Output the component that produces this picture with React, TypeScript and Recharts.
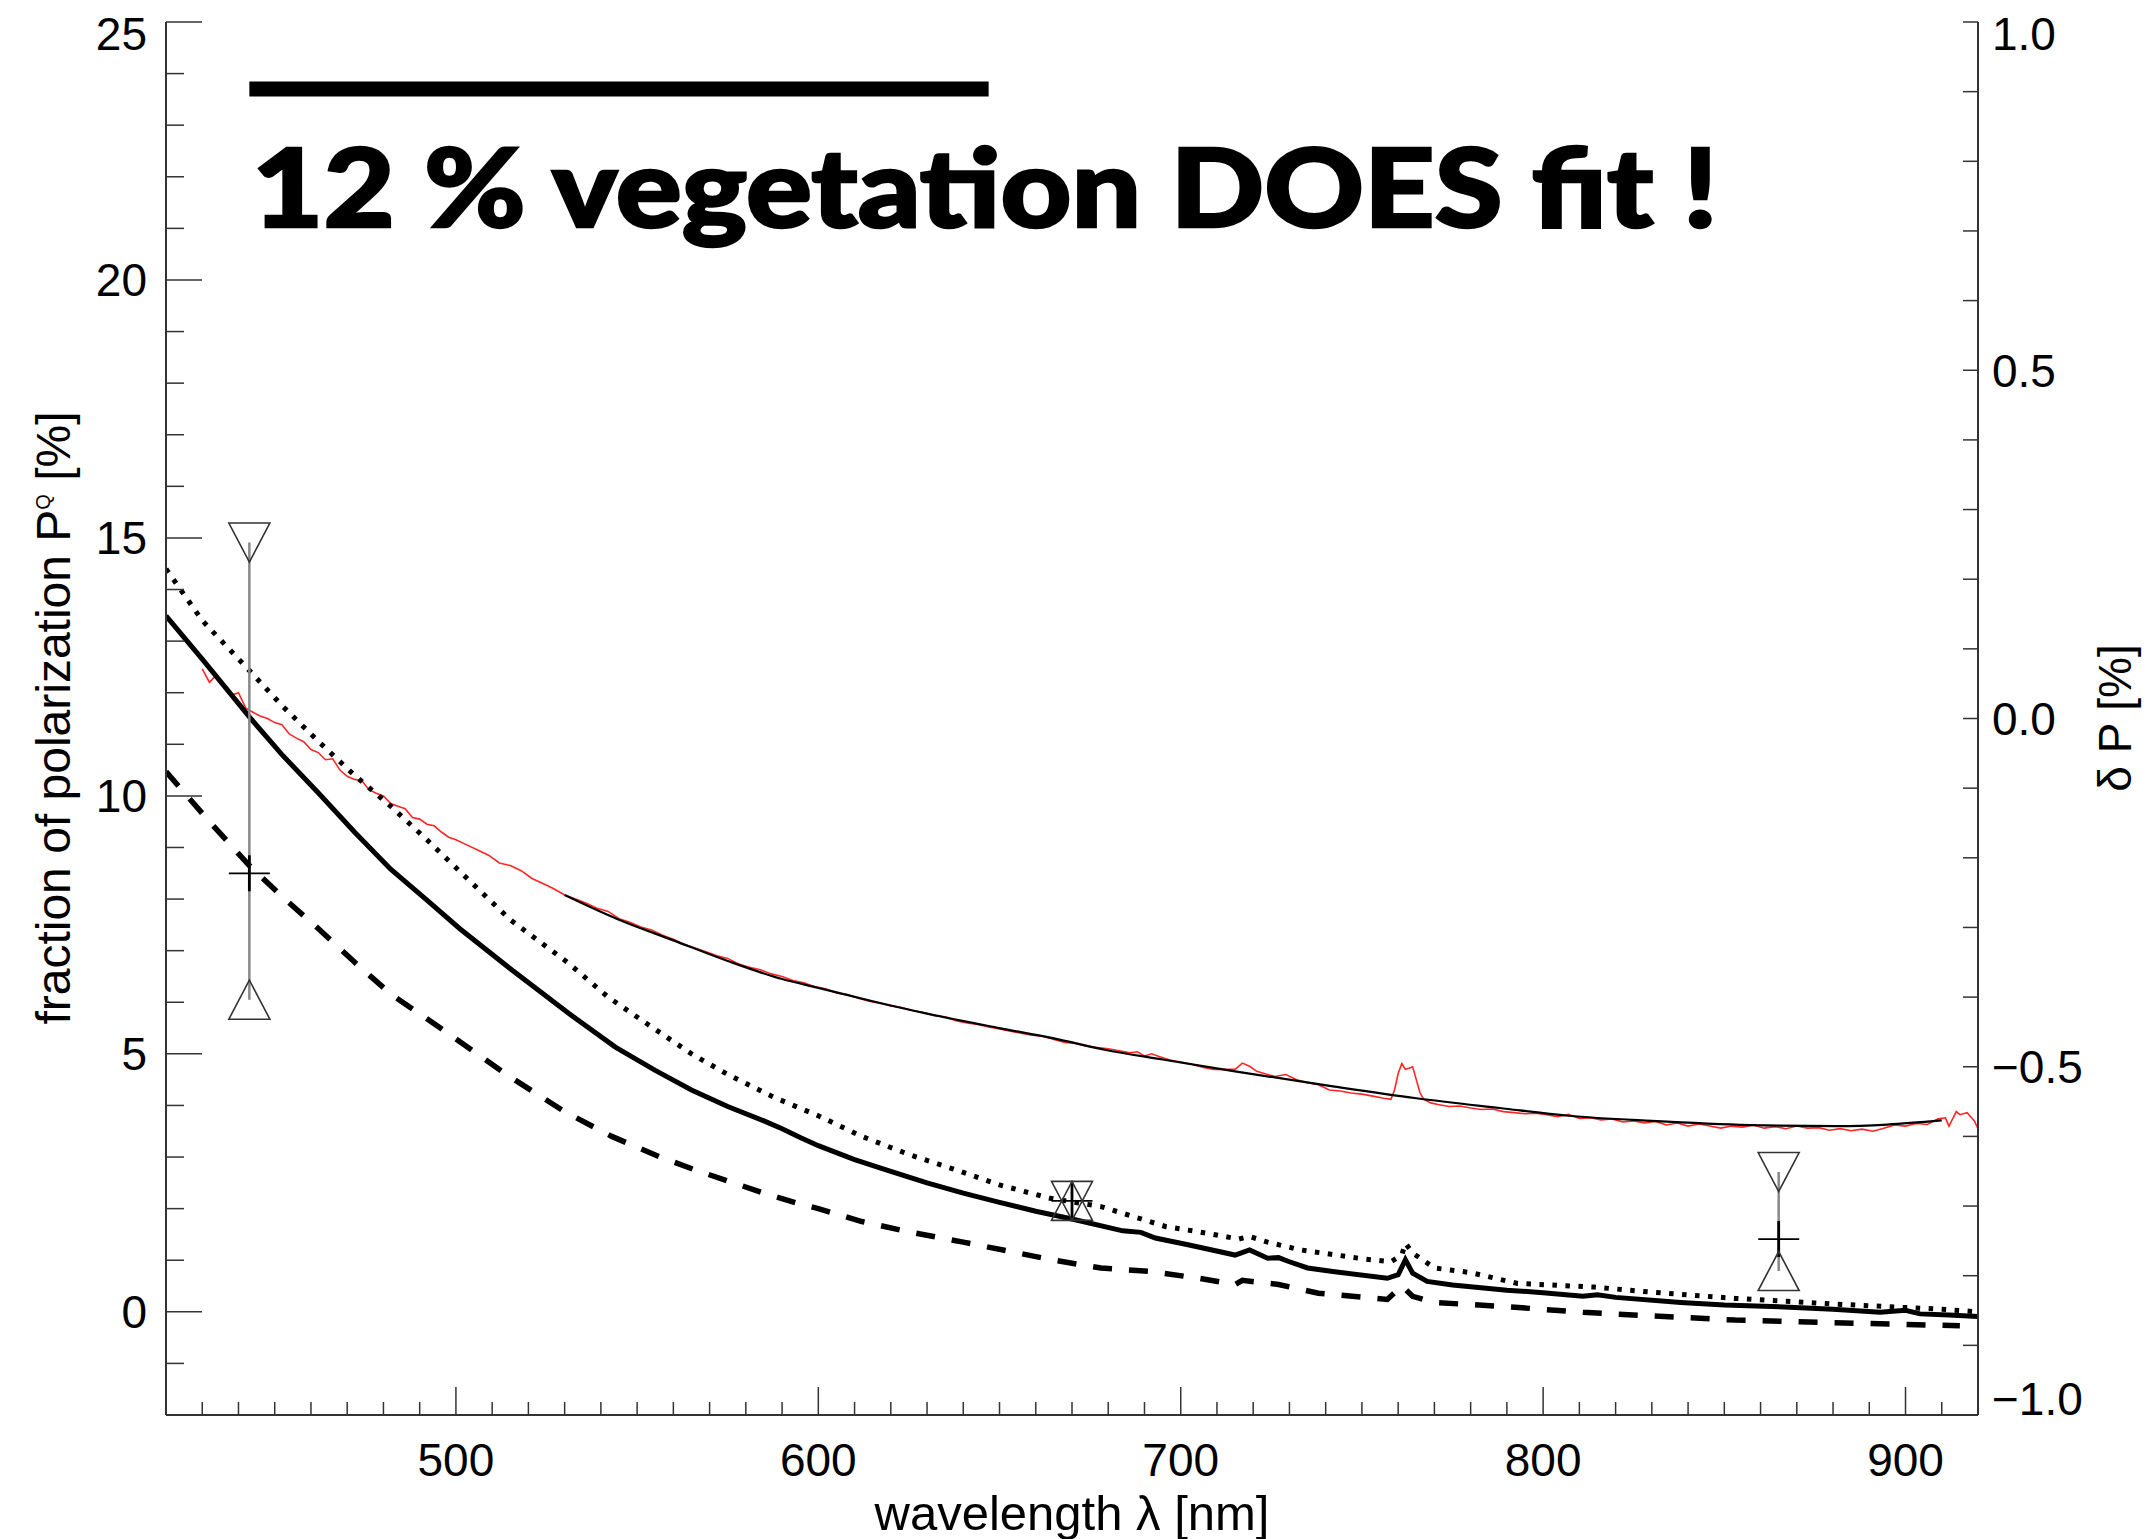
import { ComposedChart, Line, Scatter, XAxis, YAxis, ErrorBar, ReferenceLine } from 'recharts'

const FONT = '"Liberation Sans", Arial, Helvetica, sans-serif'
const AXIS = '#333'

// axis ticks
const X_MAJOR = [500, 600, 700, 800, 900]
const Y_MAJOR = [0, 5, 10, 15, 20, 25]
const R_MAJOR = [-1.0, -0.5, 0.0, 0.5, 1.0]

// model: solid (thick) curve, P_Q in %
const solidNm = [420, 430, 443, 452, 462, 472, 482, 492, 501, 515, 531, 544, 555, 565, 575, 585, 590, 595, 600, 610, 620, 630, 640, 650, 660, 670, 684, 689, 693, 702, 715, 719, 724, 727, 730, 735, 742, 757, 760, 762, 764, 768, 775, 790, 800, 811, 815, 820, 838, 850, 868, 880, 893, 900, 904, 912, 920]
const solidP = [13.49, 12.65, 11.53, 10.8, 10.06, 9.3, 8.58, 7.98, 7.43, 6.65, 5.79, 5.13, 4.68, 4.3, 3.98, 3.7, 3.55, 3.38, 3.22, 2.95, 2.72, 2.5, 2.3, 2.12, 1.95, 1.8, 1.57, 1.54, 1.43, 1.3, 1.1, 1.2, 1.04, 1.05, 0.97, 0.85, 0.78, 0.65, 0.72, 1.01, 0.75, 0.59, 0.52, 0.42, 0.37, 0.3, 0.33, 0.28, 0.18, 0.13, 0.09, 0.05, -0.01, 0.03, -0.04, -0.06, -0.09]

// model: dotted curve
const dottedNm = [420, 430, 443, 452, 462, 472, 482, 492, 501, 515, 531, 542, 553, 565, 575, 588, 600, 612, 625, 638, 650, 664, 678, 696, 705, 716, 719, 724, 733, 751, 758, 761, 762, 764, 770, 780, 793, 814, 830, 853, 875, 898, 910, 920]
const dottedP = [14.4, 13.4, 12.43, 11.75, 11.06, 10.4, 9.8, 9.15, 8.54, 7.6, 6.76, 6.1, 5.57, 5.0, 4.6, 4.15, 3.8, 3.4, 3.05, 2.75, 2.46, 2.2, 2.04, 1.65, 1.55, 1.41, 1.46, 1.35, 1.2, 1.02, 0.97, 1.1, 1.33, 1.14, 0.85, 0.76, 0.55, 0.48, 0.38, 0.26, 0.17, 0.09, 0.05, 0.0]

// model: dashed curve
const dashedNm = [420, 432, 443, 452, 462, 472, 482, 492, 501, 515, 530, 543, 556, 566, 577, 585, 594, 600, 612, 625, 640, 653, 665, 678, 692, 705, 715, 717, 727, 738, 757, 761, 764, 770, 790, 811, 830, 853, 880, 903, 915]
const dashedP = [10.47, 9.5, 8.65, 8.05, 7.43, 6.78, 6.16, 5.68, 5.24, 4.55, 3.88, 3.4, 3.01, 2.75, 2.49, 2.3, 2.11, 2.0, 1.75, 1.55, 1.35, 1.17, 1.0, 0.85, 0.78, 0.65, 0.53, 0.61, 0.53, 0.36, 0.24, 0.5, 0.3, 0.18, 0.1, -0.01, -0.08, -0.16, -0.21, -0.25, -0.27]

// observed spectrum (red)
const obsNm = [430, 432, 434, 436, 438, 440, 442, 444, 446, 448, 450, 452, 454, 456, 458, 460, 462, 464, 466, 468, 470, 472, 474, 476, 478, 480, 482, 484, 486, 488, 490, 492, 494, 496, 498, 500, 503, 506, 509, 512, 515, 518, 521, 524, 527, 530, 533, 536, 539, 542, 545, 548, 551, 554, 557, 560, 563, 566, 569, 572, 575, 578, 581, 584, 587, 590, 593, 596, 599, 602, 605, 608, 611, 614, 617, 620, 623, 626, 629, 632, 635, 638, 641, 644, 647, 650, 653, 656, 659, 662, 665, 668, 671, 674, 677, 680, 683, 686, 688, 690, 692, 694, 697, 700, 703, 706, 709, 712, 715, 717, 719, 721, 723, 726, 729, 732, 735, 738, 741, 744, 747, 750, 753, 756, 758, 759, 760, 761, 762, 763, 764, 765, 766, 767, 769, 771, 774, 777, 780, 783, 786, 789, 792, 795, 798, 801, 804, 807, 810, 813, 816, 819, 822, 825, 828, 831, 834, 837, 840, 843, 846, 849, 852, 855, 858, 861, 864, 867, 870, 873, 876, 879, 882, 885, 888, 891, 894, 897, 900, 903, 906, 909, 911, 912, 914, 915, 917, 919, 920]
const obsP = [12.46, 12.2, 12.35, 12.1, 11.95, 12.0, 11.7, 11.62, 11.55, 11.5, 11.42, 11.38, 11.2, 11.12, 11.05, 10.9, 10.84, 10.7, 10.72, 10.5, 10.38, 10.32, 10.3, 10.12, 10.05, 10.0, 9.85, 9.8, 9.75, 9.58, 9.55, 9.45, 9.42, 9.3, 9.2, 9.15, 9.05, 8.95, 8.85, 8.7, 8.65, 8.55, 8.4, 8.3, 8.2, 8.08, 8.0, 7.92, 7.82, 7.76, 7.62, 7.55, 7.46, 7.4, 7.3, 7.22, 7.12, 7.05, 6.98, 6.9, 6.85, 6.74, 6.68, 6.63, 6.55, 6.5, 6.42, 6.38, 6.3, 6.26, 6.18, 6.15, 6.08, 6.02, 5.98, 5.93, 5.9, 5.84, 5.8, 5.74, 5.72, 5.64, 5.6, 5.57, 5.52, 5.48, 5.44, 5.4, 5.36, 5.34, 5.28, 5.22, 5.2, 5.15, 5.12, 5.1, 5.06, 5.02, 5.04, 4.96, 5.0, 4.95, 4.88, 4.84, 4.8, 4.74, 4.7, 4.7, 4.7, 4.82, 4.76, 4.66, 4.62, 4.56, 4.6, 4.5, 4.44, 4.4, 4.3, 4.28, 4.24, 4.22, 4.18, 4.14, 4.12, 4.3, 4.62, 4.81, 4.7, 4.72, 4.75, 4.5, 4.25, 4.12, 4.05, 4.02, 3.98, 3.99, 3.95, 3.92, 3.93, 3.88, 3.86, 3.84, 3.85, 3.82, 3.78, 3.83, 3.75, 3.76, 3.72, 3.74, 3.68, 3.7, 3.66, 3.69, 3.62, 3.66, 3.6, 3.64, 3.6, 3.56, 3.6, 3.58, 3.62, 3.56, 3.59, 3.55, 3.6, 3.56, 3.57, 3.52, 3.55, 3.51, 3.54, 3.5, 3.56, 3.62, 3.6, 3.65, 3.63, 3.74, 3.76, 3.6, 3.88, 3.82, 3.86, 3.7, 3.55]

// smooth fit through the observations
const fitNm = [530, 545, 560, 575, 590, 600, 615, 630, 650, 665, 679, 695, 715, 742, 765, 788, 807, 830, 857, 881, 895, 910]
const fitP = [8.08, 7.6, 7.2, 6.8, 6.45, 6.28, 6.02, 5.78, 5.5, 5.3, 5.08, 4.89, 4.66, 4.37, 4.14, 3.95, 3.8, 3.7, 3.62, 3.6, 3.63, 3.71]

// measurements with error ranges
const measNm = [443, 670, 865]
const measP = [8.5, 2.15, 1.41]
const measHi = [14.91, 2.15, 2.71]
const measLo = [6.05, 2.15, 0.79]

// annotation bar
const barNm = [443, 647]
const barLevel = 23.7

const toPoints = (nm: number[], v: number[]) => nm.map((x, i) => ({ nm: x, v: v[i] }))

const solidData = toPoints(solidNm, solidP)
const dottedData = toPoints(dottedNm, dottedP)
const dashedData = toPoints(dashedNm, dashedP)
const obsData = toPoints(obsNm, obsP)
const fitData = toPoints(fitNm, fitP)
const measData = measNm.map((x, i) => ({ nm: x, v: measP[i], err: [measP[i] - measLo[i], measHi[i] - measP[i]] }))
const hiData = toPoints(measNm, measHi)
const loData = toPoints(measNm, measLo)

const range = (from: number, to: number, step: number) => {
  const out: number[] = []
  for (let v = from; v <= to + 1e-9; v += step) out.push(Math.round(v * 100) / 100)
  return out
}

const xTicks = range(430, 910, 10)
const yTicks = range(-1, 25, 1)
const rTicks = range(-1, 1, 0.1)

const PLOT_TOP = 22
const PLOT_BOTTOM = 1415

const labelBaseline = (y: number) => Math.min(Math.max(y + 16.5, PLOT_TOP + 28), PLOT_BOTTOM)

function BottomTick({ x, y, payload }: any) {
  const v = payload.value
  const major = X_MAJOR.includes(v)
  return (
    <g>
      <line x1={x} x2={x} y1={y} y2={y - (major ? 28 : 13)} stroke={AXIS} strokeWidth={1.5} />
      {major && (
        <text x={x} y={y + 61} textAnchor="middle" fontSize={46} fontFamily={FONT} fill="#000">
          {v}
        </text>
      )}
    </g>
  )
}

function TopTick({ x, y, payload }: any) {
  const major = X_MAJOR.includes(payload.value)
  return <line x1={x} x2={x} y1={y} y2={y + (major ? 28 : 13)} stroke={AXIS} strokeWidth={1.5} />
}

function LeftTick({ x, y, payload }: any) {
  const v = payload.value
  const major = Y_MAJOR.includes(v)
  return (
    <g>
      <line x1={x} x2={x + (major ? 36 : 18)} y1={y} y2={y} stroke={AXIS} strokeWidth={1.5} />
      {major && (
        <text x={x - 19} y={labelBaseline(y)} textAnchor="end" fontSize={46} fontFamily={FONT} fill="#000">
          {v}
        </text>
      )}
    </g>
  )
}

function RightTick({ x, y, payload }: any) {
  const v = payload.value
  const major = R_MAJOR.some((m) => Math.abs(m - v) < 1e-6)
  return (
    <g>
      <line x1={x} x2={x - 15} y1={y} y2={y} stroke={AXIS} strokeWidth={1.5} />
      {major && (
        <text x={x + 14} y={labelBaseline(y)} textAnchor="start" fontSize={46} fontFamily={FONT} fill="#000">
          {v.toFixed(1).replace('-', '\u2212')}
        </text>
      )}
    </g>
  )
}

const TRI_W = 41
const TRI_H = 39

function DownTriangle({ cx, cy }: any) {
  const d = `M${cx - TRI_W / 2},${cy - TRI_H / 2} L${cx + TRI_W / 2},${cy - TRI_H / 2} L${cx},${cy + TRI_H / 2} Z`
  return <path d={d} fill="none" stroke="#333" strokeWidth={1.6} />
}

function UpTriangle({ cx, cy }: any) {
  const d = `M${cx - TRI_W / 2},${cy + TRI_H / 2} L${cx + TRI_W / 2},${cy + TRI_H / 2} L${cx},${cy - TRI_H / 2} Z`
  return <path d={d} fill="none" stroke="#333" strokeWidth={1.6} />
}

function Cross({ cx, cy }: any) {
  return (
    <g>
      <line x1={cx - TRI_W / 2} x2={cx + TRI_W / 2} y1={cy} y2={cy} stroke="#000" strokeWidth={1.8} />
      <line x1={cx} x2={cx} y1={cy - 18} y2={cy + 18} stroke="#000" strokeWidth={2.8} />
    </g>
  )
}

export default function App() {
  return (
    <div style={{ position: 'absolute', left: 0, top: 0, width: 2154, height: 1539, background: '#fff' }}>
      <ComposedChart width={2154} height={1539} margin={{ top: PLOT_TOP, right: 0, bottom: 0, left: 0 }}>
        <XAxis
          dataKey="nm"
          type="number"
          domain={[420, 920]}
          allowDataOverflow
          ticks={xTicks}
          interval={0}
          tick={(p: any) => <BottomTick {...p} />}
          tickLine={false}
          tickSize={0}
          tickMargin={0}
          height={124}
          axisLine={{ stroke: AXIS, strokeWidth: 2 }}
        />
        <XAxis
          xAxisId="top"
          orientation="top"
          dataKey="nm"
          type="number"
          domain={[420, 920]}
          allowDataOverflow
          ticks={xTicks}
          interval={0}
          tick={(p: any) => <TopTick {...p} />}
          tickLine={false}
          tickSize={0}
          tickMargin={0}
          height={0}
          axisLine={{ stroke: AXIS, strokeWidth: 2 }}
        />
        <YAxis
          type="number"
          domain={[-2, 25]}
          allowDataOverflow
          ticks={yTicks}
          interval={0}
          tick={(p: any) => <LeftTick {...p} />}
          tickLine={false}
          tickSize={0}
          tickMargin={0}
          width={166}
          axisLine={{ stroke: AXIS, strokeWidth: 2 }}
        />
        <YAxis
          yAxisId="right"
          orientation="right"
          type="number"
          domain={[-1, 1]}
          allowDataOverflow
          ticks={rTicks}
          interval={0}
          tick={(p: any) => <RightTick {...p} />}
          tickLine={false}
          tickSize={0}
          tickMargin={0}
          width={176}
          axisLine={{ stroke: AXIS, strokeWidth: 2 }}
        />

        <ReferenceLine
          segment={[{ x: barNm[0], y: barLevel }, { x: barNm[1], y: barLevel }]}
          stroke="#000"
          strokeWidth={15}
        />

        <Line data={obsData} dataKey="v" type="linear" stroke="#ff2626" strokeWidth={1.6} dot={false} isAnimationActive={false} />
        <Line data={fitData} dataKey="v" type="monotone" stroke="#000" strokeWidth={2.2} dot={false} isAnimationActive={false} />
        <Line data={dashedData} dataKey="v" type="linear" stroke="#000" strokeWidth={5.5} strokeDasharray="19 17" dot={false} isAnimationActive={false} />
        <Line data={dottedData} dataKey="v" type="linear" stroke="#000" strokeWidth={5} strokeDasharray="4.5 8.5" dot={false} isAnimationActive={false} />
        <Line data={solidData} dataKey="v" type="linear" stroke="#000" strokeWidth={5} dot={false} isAnimationActive={false} />

        <Scatter data={measData} dataKey="v" shape={(p: any) => <Cross {...p} />} isAnimationActive={false}>
          <ErrorBar dataKey="err" direction="y" width={0} stroke="#888" strokeWidth={2.5} />
        </Scatter>
        <Scatter data={hiData} dataKey="v" shape={(p: any) => <DownTriangle {...p} />} isAnimationActive={false} />
        <Scatter data={loData} dataKey="v" shape={(p: any) => <UpTriangle {...p} />} isAnimationActive={false} />
      </ComposedChart>

      <svg
        width={2154}
        height={1539}
        style={{ position: 'absolute', left: 0, top: 0, pointerEvents: 'none' }}
      >
        <text
          x={252}
          y={227}
          fontFamily="Lato, 'Open Sans', sans-serif"
          fontWeight={900}
          fontSize={108}
          textLength={1466}
          lengthAdjust="spacingAndGlyphs"
          fill="#000"
          stroke="#000"
          strokeWidth={2.5}
        >
          12 % vegetation DOES fit !
        </text>
        <text x={1072} y={1530} textAnchor="middle" fontSize={49} fontFamily={FONT} fill="#000">
          wavelength λ [nm]
        </text>
        <text
          x={70}
          y={718}
          transform="rotate(-90, 70, 718)"
          textAnchor="middle"
          fontSize={48}
          fontFamily={FONT}
          fill="#000"
        >
          fraction of polarization P
          <tspan fontSize={20} dy={-20}>Q</tspan>
          <tspan dy={20}> [%]</tspan>
        </text>
        <text
          x={2131}
          y={718}
          transform="rotate(-90, 2131, 718)"
          textAnchor="middle"
          fontSize={46}
          fontFamily={FONT}
          fill="#000"
        >
          δ P [%]
        </text>
      </svg>
    </div>
  )
}
